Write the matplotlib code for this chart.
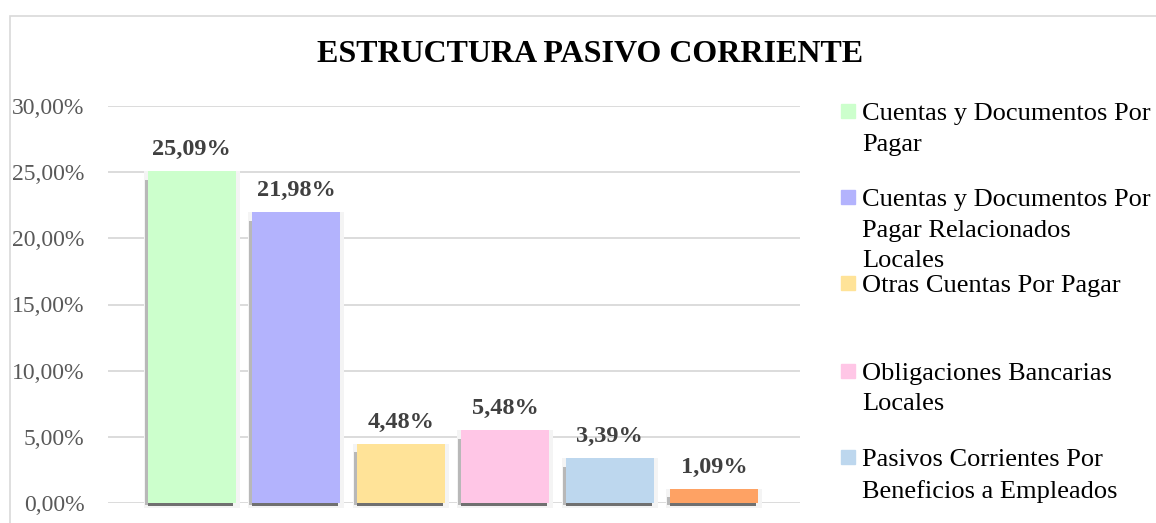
import matplotlib.pyplot as plt
from matplotlib.patches import Rectangle
import numpy as np

categorias = ['Cuentas y Documentos Por\nPagar',
              'Cuentas y Documentos Por\nPagar Relacionados\nLocales',
              'Otras Cuentas Por Pagar',
              'Obligaciones Bancarias\nLocales',
              'Pasivos Corrientes Por\nBeneficios a Empleados',
              'Otros Pasivos Corrientes']
valores = [25.09, 21.98, 4.48, 5.48, 3.39, 1.09]
etiquetas = ['25,09%', '21,98%', '4,48%', '5,48%', '3,39%', '1,09%']
ticks = [0, 5, 10, 15, 20, 25, 30]
tick_labels = ['0,00%', '5,00%', '10,00%', '15,00%', '20,00%', '25,00%', '30,00%']

colores = ['#ccffcc', '#b3b3fd', '#ffe398', '#ffc6e6', '#bdd7ee', '#fea264']

plt.rcParams['font.family'] = ['Liberation Serif', 'DejaVu Serif']

fig = plt.figure(figsize=(11.56, 5.23), dpi=100)
fig.patches.append(Rectangle((10 / 1156, -0.1), 1.2, 1 - 16 / 523 + 0.1,
                             transform=fig.transFigure, fill=False,
                             edgecolor='#d9d9d9', linewidth=1.2))

ax = fig.add_axes([108 / 1156, 1 - 503 / 523, (800 - 108) / 1156, (503 - 106) / 523])
x = np.arange(len(valores))
w = 0.84

# glow and shadow behind bars (Excel style)
ax.bar(x, np.array(valores) + 0.35, width=w + 0.08, bottom=-0.35,
       color='#f4f4f4', zorder=1, clip_on=False)
ax.bar(x - 0.03, np.array(valores) - 0.5, width=w, bottom=-0.15,
       color='#b8b8b8', zorder=2, clip_on=False)
ax.bar(x - 0.01, 0.2, width=w - 0.02, bottom=-0.2, color='#707070',
       zorder=2, clip_on=False)
ax.bar(x, valores, width=w, color=colores, zorder=3)

for xi, v, t in zip(x, valores, etiquetas):
    ax.annotate(t, (xi, v), xytext=(0, 8), textcoords='offset points',
                ha='center', va='bottom', fontsize=17.5, fontweight='bold',
                color='#404040')

ax.set_xlim(-0.80, 5.82)
ax.set_ylim(0, 30)
ax.set_yticks(ticks)
ax.set_yticklabels(tick_labels, fontsize=17, color='#595959')
ax.set_xticks([])
ax.tick_params(axis='y', length=0, pad=17)
ax.grid(axis='y', color='#d9d9d9', linewidth=1.3, zorder=0)
ax.set_axisbelow(True)
for s in ax.spines.values():
    s.set_visible(False)

fig.text(590 / 1156, 1 - 55 / 523, 'ESTRUCTURA PASIVO CORRIENTE',
         ha='center', va='center', fontsize=23, fontweight='bold')

# legend (last entry is cut off in the original)
leg_y = [111, 197, 283, 371, 457]
for i, yy in enumerate(leg_y):
    fig.patches.append(Rectangle((841 / 1156, 1 - (yy + 7) / 523), 14 / 1156, 14 / 523,
                                 transform=fig.transFigure, color=colores[i]))
    fig.text(862 / 1156, 1 - (yy - 8) / 523, categorias[i], ha='left', va='top',
             fontsize=19, linespacing=1.5)

fig.savefig('out.png', dpi=100)
